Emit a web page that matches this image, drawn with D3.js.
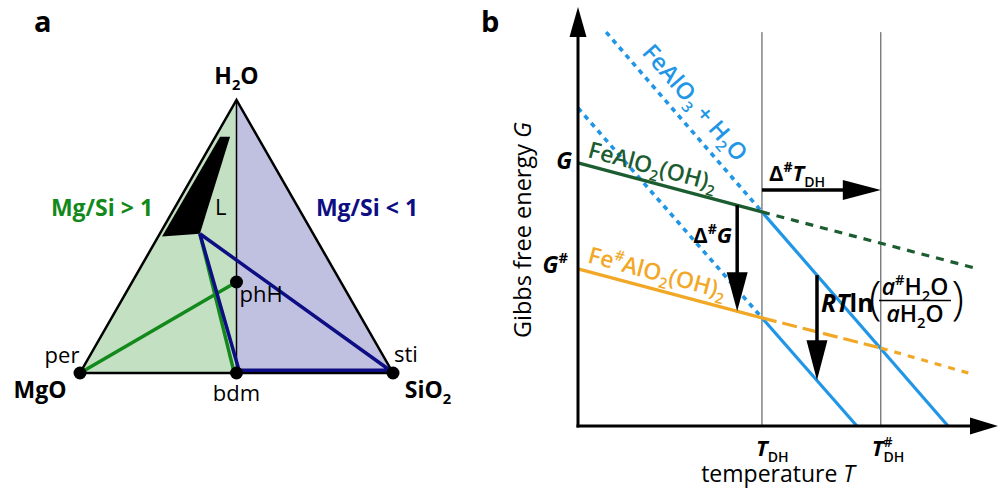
<!DOCTYPE html>
<html>
<head>
<meta charset="utf-8">
<script src="https://cdn.jsdelivr.net/npm/d3@7"></script>
<style>
  body { margin: 0; background: #fff; }
  svg { font-family: "Open Sans", "DejaVu Sans", sans-serif; }
</style>
</head>
<body>
<div id="fig"></div>
<script>
// ---------- panel a: MgO-SiO2-H2O ternary ----------
// compositions as [SiO2 fraction, H2O fraction], MgO is the rest
var corners = [[0, 0], [1, 0], [0, 1]];          // MgO, SiO2, H2O
var phaseNames = ["per", "bdm", "sti", "phH"];
var phaseComp = [[0, 0], [0.5, 0], [1, 0], [1/3, 1/3]];
var liquidField = [[0.015, 0.865], [0.047, 0.865], [0.128, 0.51], [0.012, 0.5]];
var fluidPt = [0.128, 0.51];
var greenTies = [[[0, 0], [1/3, 1/3]], [fluidPt, [0.49, 0.004]]];
var navyTies = [fluidPt, [0.503, 0.01], [0.985, 0.01], fluidPt];

// ---------- panel b: G-T schematic (arbitrary units) ----------
var tDH = [43.8, 72.1];                                     // T_DH, T#_DH
var hydrous = [[0, 62.8], [43.8, 51.1], [94.5, 37.7]];       // FeAlO2(OH)2
var hydrousSharp = [[0, 37.5], [43.8, 25.8], [72.1, 18.6], [94.5, 12.2]]; // Fe#AlO2(OH)2
var dehydA = [[6.7, 94], [43.8, 51.1], [88.1, 0]];          // FeAlO3 + H2O
var dehydB = [[0, 75.9], [43.8, 25.8], [66.4, 0]];          // FeAlO3 + H2O, a#H2O
var dGarrow = [37.9, 52.7, 27.4];   // T, G from, G to
var rtArrow = [56.9, 36.0, 10.9];
var dTarrow = [56.3, 43.8, 72.1];   // G, T from, T to

var greenA = "#12891a", navy = "#0e0e84";
var blue = "#2196e6", dkgreen = "#1b5c30", orange = "#f2a827";

var svg = d3.select("#fig").append("svg").attr("width", 1001).attr("height", 492);

// rich text: parts {t, s:"sub"|"sup", it, w, back}
function rich(text, parts, size) {
  var cur = 0, prevW = 0;
  parts.forEach(function(p) {
    var fs = p.s ? size * 0.64 : size;
    var off = p.s === "sub" ? size * 0.25 : p.s === "sup" ? -size * 0.42 : 0;
    var ts = text.append("tspan").attr("dy", off - cur).style("font-size", fs + "px").text(p.t);
    if (p.it) ts.style("font-style", "italic");
    if (p.w) ts.style("font-weight", p.w);
    if (p.back) ts.attr("dx", -prevW);
    prevW = ts.node().getComputedTextLength();
    cur = off;
  });
  return text;
}
function label(g, x, y, parts, size, opts) {
  opts = opts || {};
  var t = g.append("text").attr("x", x).attr("y", y)
    .attr("text-anchor", opts.anchor || "start")
    .style("font-weight", opts.w || 400)
    .style("fill", opts.color || "#000");
  if (opts.rot) t.attr("transform", "rotate(" + opts.rot + "," + x + "," + y + ")");
  return rich(t, typeof parts === "string" ? [{t: parts}] : parts, size);
}

// ================= panel a =================
var ga = svg.append("g");
var tx = d3.scaleLinear().domain([0, 1]).range([80, 393]);
var ty = d3.scaleLinear().domain([0, 1]).range([373, 100]);
function px(c) { return tx(c[0] + c[1] / 2); }
function py(c) { return ty(c[1]); }
var tline = d3.line().x(px).y(py);

ga.append("path").attr("d", tline([corners[0], phaseComp[1], corners[2]]) + "Z").attr("fill", "#c4e0c3");
ga.append("path").attr("d", tline([phaseComp[1], corners[1], corners[2]]) + "Z").attr("fill", "#c0c1e1");
ga.append("path").attr("d", tline([corners[2], phaseComp[1]])).attr("stroke", "#000").attr("stroke-width", 1.5);
ga.append("path").attr("d", tline(corners) + "Z").attr("fill", "none").attr("stroke", "#000")
  .attr("stroke-width", 2.5).attr("stroke-linejoin", "miter");
ga.append("path").attr("d", tline(liquidField) + "Z").attr("fill", "#000");
greenTies.forEach(function(s) {
  ga.append("path").attr("d", tline(s)).attr("stroke", greenA).attr("stroke-width", 3.5);
});
ga.append("path").attr("d", tline(navyTies)).attr("fill", "none").attr("stroke", navy)
  .attr("stroke-width", 3.5).attr("stroke-linejoin", "round");
ga.selectAll("circle.ph").data(phaseComp).enter().append("circle")
  .attr("cx", px).attr("cy", py).attr("r", 6.5).attr("fill", "#000");

label(ga, 34, 32, "a", 29, {w: 700});
label(ga, px(corners[2]), py(corners[2]) - 16, [{t: "H"}, {t: "2", s: "sub"}, {t: "O"}], 23, {anchor: "middle", w: 700});
label(ga, px(corners[0]) - 40, py(corners[0]) + 25, "MgO", 23, {anchor: "middle", w: 700});
label(ga, px(corners[1]) + 35, py(corners[1]) + 25, [{t: "SiO"}, {t: "2", s: "sub"}], 23, {anchor: "middle", w: 700});
label(ga, px(phaseComp[0]) - 18, py(phaseComp[0]) - 10, "per", 22, {anchor: "middle"});
label(ga, px(phaseComp[1]), py(phaseComp[1]) + 28, "bdm", 22, {anchor: "middle"});
label(ga, px(phaseComp[2]) + 13, py(phaseComp[2]) - 11, "sti", 22, {anchor: "middle"});
label(ga, px(phaseComp[3]) + 3, py(phaseComp[3]) + 20, "phH", 22);
label(ga, 215, 215, "L", 22);
label(ga, 102, 216, "Mg/Si > 1", 23, {anchor: "middle", w: 700, color: greenA});
label(ga, 367, 216, "Mg/Si < 1", 23, {anchor: "middle", w: 700, color: navy});

// ================= panel b =================
var gb = svg.append("g");
var x = d3.scaleLinear().domain([0, 100]).range([578, 998]);
var y = d3.scaleLinear().domain([0, 100]).range([426, 7]);
var line = d3.line().x(function(d) { return x(d[0]); }).y(function(d) { return y(d[1]); });

function arrow(g, x1, y1, x2, y2, len, half, w) {
  var dx = x2 - x1, dy = y2 - y1, L = Math.hypot(dx, dy), ux = dx / L, uy = dy / L;
  var bx = x2 - ux * len, by = y2 - uy * len;
  g.append("line").attr("x1", x1).attr("y1", y1).attr("x2", bx + ux * 2).attr("y2", by + uy * 2)
    .attr("stroke", "#000").attr("stroke-width", w);
  g.append("path").attr("fill", "#000")
    .attr("d", "M" + x2 + "," + y2 + "L" + (bx - uy * half) + "," + (by + ux * half) +
      "L" + (bx + uy * half) + "," + (by - ux * half) + "Z");
}

// guide lines at T_DH
gb.selectAll("line.guide").data(tDH).enter().append("line")
  .attr("x1", function(d) { return x(d); }).attr("x2", function(d) { return x(d); })
  .attr("y1", y(0)).attr("y2", y(94)).attr("stroke", "#444").attr("stroke-width", 1);

function seg(pts, i, color, dash) {
  gb.append("path").attr("d", line(pts.slice(i, i + 2))).attr("fill", "none")
    .attr("stroke", color).attr("stroke-width", dash === "5,5" ? 3.6 : 3.2)
    .attr("stroke-dasharray", dash || null);
}
seg(dehydA, 0, blue, "5,5"); seg(dehydA, 1, blue);
seg(dehydB, 0, blue, "5,5"); seg(dehydB, 1, blue);
seg(hydrous, 0, dkgreen); seg(hydrous, 1, dkgreen, "8,7");
seg(hydrousSharp, 0, orange); seg(hydrousSharp, 1, orange, "15,6"); seg(hydrousSharp, 2, orange, "7,7");

// axes
arrow(gb, x(0), y(0) + 1.5, x(0), y(100), 30, 8.5, 3);
arrow(gb, x(0) - 1.5, y(0), x(100), y(0), 28, 8.5, 3);

// annotation arrows
arrow(gb, x(dGarrow[0]), y(dGarrow[1]), x(dGarrow[0]), y(dGarrow[2]), 39, 10.5, 3.5);
arrow(gb, x(rtArrow[0]), y(rtArrow[1]), x(rtArrow[0]), y(rtArrow[2]), 40, 10.5, 3.5);
arrow(gb, x(dTarrow[1]), y(dTarrow[0]), x(dTarrow[2]), y(dTarrow[0]), 38, 10, 3.5);

label(gb, 481, 32, "b", 29, {w: 700});
label(gb, 572, 169, [{t: "G", it: true}], 23, {anchor: "end", w: 700});
label(gb, 568, 273, [{t: "G", it: true}, {t: "#", s: "sup"}], 23, {anchor: "end", w: 700});

// axis titles
label(gb, 531, 230, [{t: "Gibbs free energy "}, {t: "G", it: true}], 23.5, {anchor: "middle", rot: -90});
label(gb, 778, 482, [{t: "temperature "}, {t: "T", it: true}], 23, {anchor: "middle"});

// T_DH ticks
label(gb, x(tDH[0]) - 6, 456, [{t: "T", it: true, w: 700}, {t: "DH", s: "sub", w: 600}], 22);
label(gb, x(tDH[1]) - 9, 456, [{t: "T", it: true, w: 700}, {t: "#", s: "sup", w: 600},
  {t: "DH", s: "sub", w: 600, back: true}], 22);

// curve labels
label(gb, x(26.4), y(75.9), [{t: "FeAlO"}, {t: "3", s: "sub"}, {t: " + H"}, {t: "2", s: "sub"}, {t: "O"}], 23.5,
  {anchor: "middle", rot: 49, color: blue, w: 600});
label(gb, x(2.1), y(64.2), [{t: "FeAlO"}, {t: "2", s: "sub"}, {t: "(OH)"}, {t: "2", s: "sub"}], 23,
  {rot: 15, color: dkgreen, w: 600});
label(gb, x(2.1), y(39.1), [{t: "Fe"}, {t: "#", s: "sup"}, {t: "AlO"}, {t: "2", s: "sub"}, {t: "(OH)"}, {t: "2", s: "sub"}], 23,
  {rot: 15, color: orange, w: 600});

// arrow labels
label(gb, 769, 181, [{t: "\u0394"}, {t: "#", s: "sup"}, {t: "T", it: true}, {t: "DH", s: "sub", w: 600}], 22, {w: 700});
label(gb, 732, 243, [{t: "\u0394"}, {t: "#", s: "sup"}, {t: "G", it: true}], 22, {anchor: "end", w: 700});

// RT ln(a#H2O / aH2O)
label(gb, 821, 312, [{t: "RT", it: true}, {t: "ln"}], 25, {w: 700});
label(gb, 869, 314, "(", 46, {w: 300});
label(gb, 964, 314, ")", 46, {anchor: "end", w: 300});
label(gb, 915, 295, [{t: "a", it: true}, {t: "#", s: "sup"}, {t: "H"}, {t: "2", s: "sub"}, {t: "O"}], 23, {anchor: "middle", w: 600});
label(gb, 915, 322, [{t: "a", it: true}, {t: "H"}, {t: "2", s: "sub"}, {t: "O"}], 23, {anchor: "middle", w: 600});
gb.append("line").attr("x1", 879).attr("x2", 951).attr("y1", 300.5).attr("y2", 300.5)
  .attr("stroke", "#000").attr("stroke-width", 1.5);
</script>
</body>
</html>
